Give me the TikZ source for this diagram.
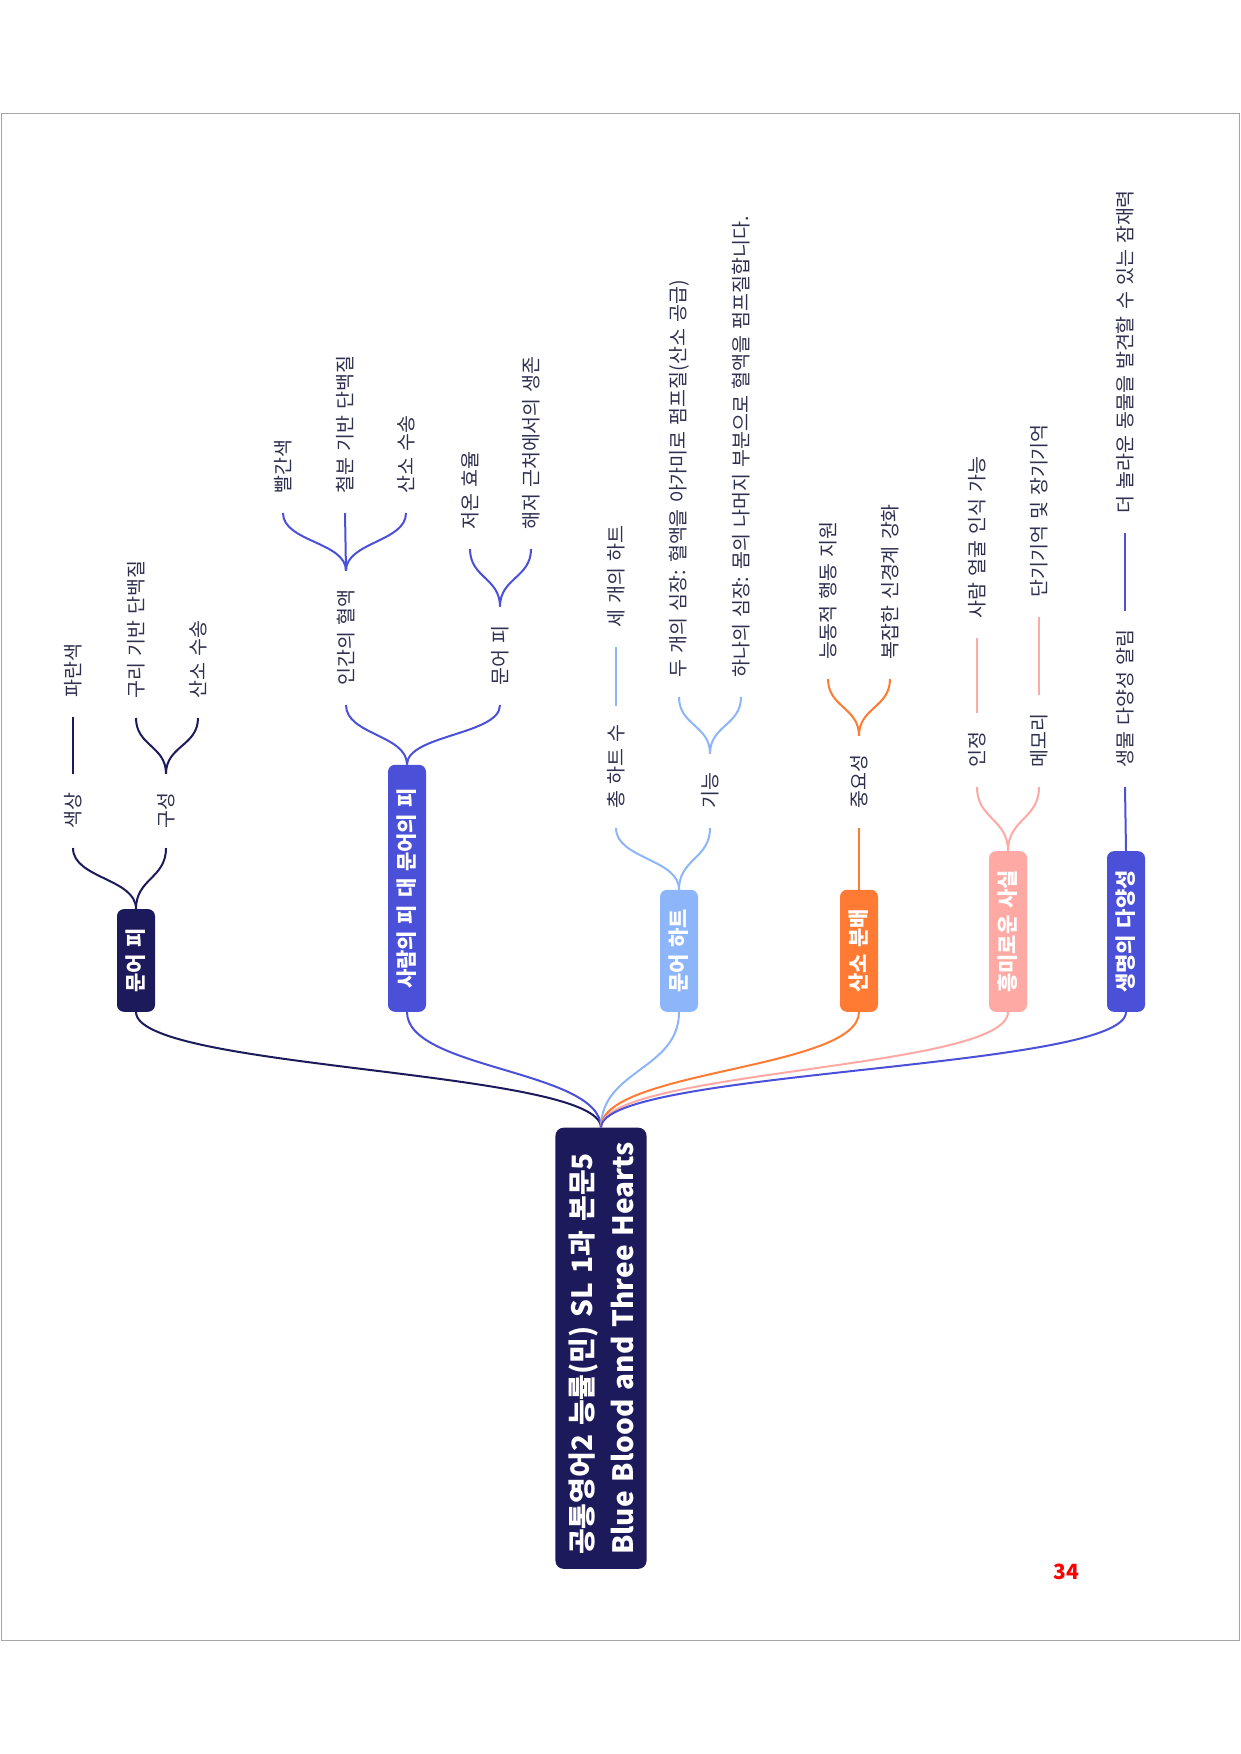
\documentclass[tikz,border=0pt]{standalone}
\usepackage{fontspec}
\setmainfont[WordSpace=1.4]{Noto Sans CJK KR}
\usetikzlibrary{calc}

\definecolor{navy}{HTML}{1C1A5B}
\definecolor{indigo}{HTML}{4A50D8}
\definecolor{sky}{HTML}{8DB5FA}
\definecolor{tangerine}{HTML}{FF7A33}
\definecolor{salmon}{HTML}{FFA9A4}
\definecolor{ink}{HTML}{2F3050}

\begin{document}
\begin{tikzpicture}[x=1pt, y=-1pt,
    rootbox/.style={rotate=90, anchor=west, fill=navy, text=white, rounded corners=8pt, align=left,
        inner xsep=14pt, inner ysep=13pt, font=\bfseries\fontsize{28}{41}\selectfont},
    topic/.style={rotate=90, anchor=west, text=white, rounded corners=7pt, inner xsep=19pt,
        inner ysep=0pt, minimum height=38pt, font=\bfseries\fontsize{21}{24}\selectfont},
    leaf/.style={rotate=90, anchor=west, text=ink, inner xsep=19pt, inner ysep=2pt,
        font=\fontsize{19.5}{22}\selectfont},
    twig/.style={line width=2pt, to path={let \p1=(\tikztostart), \p2=(\tikztotarget) in
        .. controls (\x1,{(\y1+\y2)/2}) and (\x2,{(\y1+\y2)/2}) .. (\tikztotarget)}}]
    \useasboundingbox (0,0) rectangle (1240,1754);
    \draw[gray!70, line width=1pt] (1,113) rectangle (1239,1640);

    \node[rootbox]                                   (root)   at (601,1569) {공통영어2 능률(민) SL 1과 본문5\\Blue Blood and Three Hearts};
    \node[topic, fill=navy]                          (blood)  at (136,1012) {문어 피};
    \node[topic, fill=indigo, minimum width=247pt]   (versus) at (407,1012) {사람의 피 대 문어의 피};
    \node[topic, fill=sky]                           (heart)  at (679,1012) {문어 하트};
    \node[topic, fill=tangerine]                     (oxygen) at (859,1012) {산소 분배};
    \node[topic, fill=salmon]                        (facts)  at (1008,1012) {흥미로운 사실};
    \node[topic, fill=indigo]                        (life)   at (1126,1012) {생명의 다양성};

    \node[leaf] (hue)    at (73,848)  {색상};
    \node[leaf] (blue)   at (73,717)  {파란색};
    \node[leaf] (makeup) at (166,848) {구성};
    \node[leaf] (copper) at (136,718) {구리 기반 단백질};
    \node[leaf] (carryA) at (198,718) {산소 수송};

    \node[leaf] (human)  at (346,705) {인간의 혈액};
    \node[leaf] (octo)   at (500,705) {문어 피};
    \node[leaf] (red)    at (283,513) {빨간색};
    \node[leaf] (iron)   at (345,513) {철분 기반 단백질};
    \node[leaf] (carryB) at (406,513) {산소 수송};
    \node[leaf] (cold)   at (470,549) {저온 효율};
    \node[leaf] (seabed) at (531,549) {해저 근처에서의 생존};

    \node[leaf] (count)  at (616,828) {총 하트 수};
    \node[leaf] (three)  at (616,647) {세 개의 하트};
    \node[leaf] (role)   at (710,828) {기능};
    \node[leaf] (gills)  at (679,697) {두 개의 심장: 혈액을 아가미로 펌프질(산소 공급)};
    \node[leaf] (body)   at (741,697) {하나의 심장: 몸의 나머지 부분으로 혈액을 펌프질합니다.};

    \node[leaf] (worth)  at (859,828) {중요성};
    \node[leaf] (active) at (828,679) {능동적 행동 지원};
    \node[leaf] (nerve)  at (890,679) {복잡한 신경계 강화};

    \node[leaf] (known)  at (977,787)  {인정};
    \node[leaf] (faces)  at (977,638)  {사람 얼굴 인식 가능};
    \node[leaf] (memory) at (1039,787) {메모리};
    \node[leaf] (terms)  at (1039,617) {단기기억 및 장기기억};

    \node[leaf] (notice) at (1125,787) {생물 다양성 알림};
    \node[leaf] (finds)  at (1125,533) {더 놀라운 동물을 발견할 수 있는 잠재력};

    \node[text=red, font=\bfseries\fontsize{21}{24}\selectfont] (pageno) at (1066,1572) {34};

    % branches, one colour per topic
    \path[twig, navy] (root.east) edge (blood.west)
        (blood.east) edge (hue.west) edge (makeup.west)
        (hue.east) edge (blue.west)
        (makeup.east) edge (copper.west) edge (carryA.west);
    \path[twig, indigo] (root.east) edge (versus.west)
        (versus.east) edge (human.west) edge (octo.west)
        (human.east) edge (red.west) edge (iron.west) edge (carryB.west)
        (octo.east) edge (cold.west) edge (seabed.west);
    \path[twig, sky] (root.east) edge (heart.west)
        (heart.east) edge (count.west) edge (role.west)
        (count.east) edge (three.west)
        (role.east) edge (gills.west) edge (body.west);
    \path[twig, tangerine] (root.east) edge (oxygen.west)
        (oxygen.east) edge (worth.west)
        (worth.east) edge (active.west) edge (nerve.west);
    \path[twig, salmon] (root.east) edge (facts.west)
        (facts.east) edge (known.west) edge (memory.west)
        (known.east) edge (faces.west)
        (memory.east) edge (terms.west);
    \path[twig, indigo] (root.east) edge (life.west)
        (life.east) edge (notice.west)
        (notice.east) edge (finds.west);
\end{tikzpicture}
\end{document}
